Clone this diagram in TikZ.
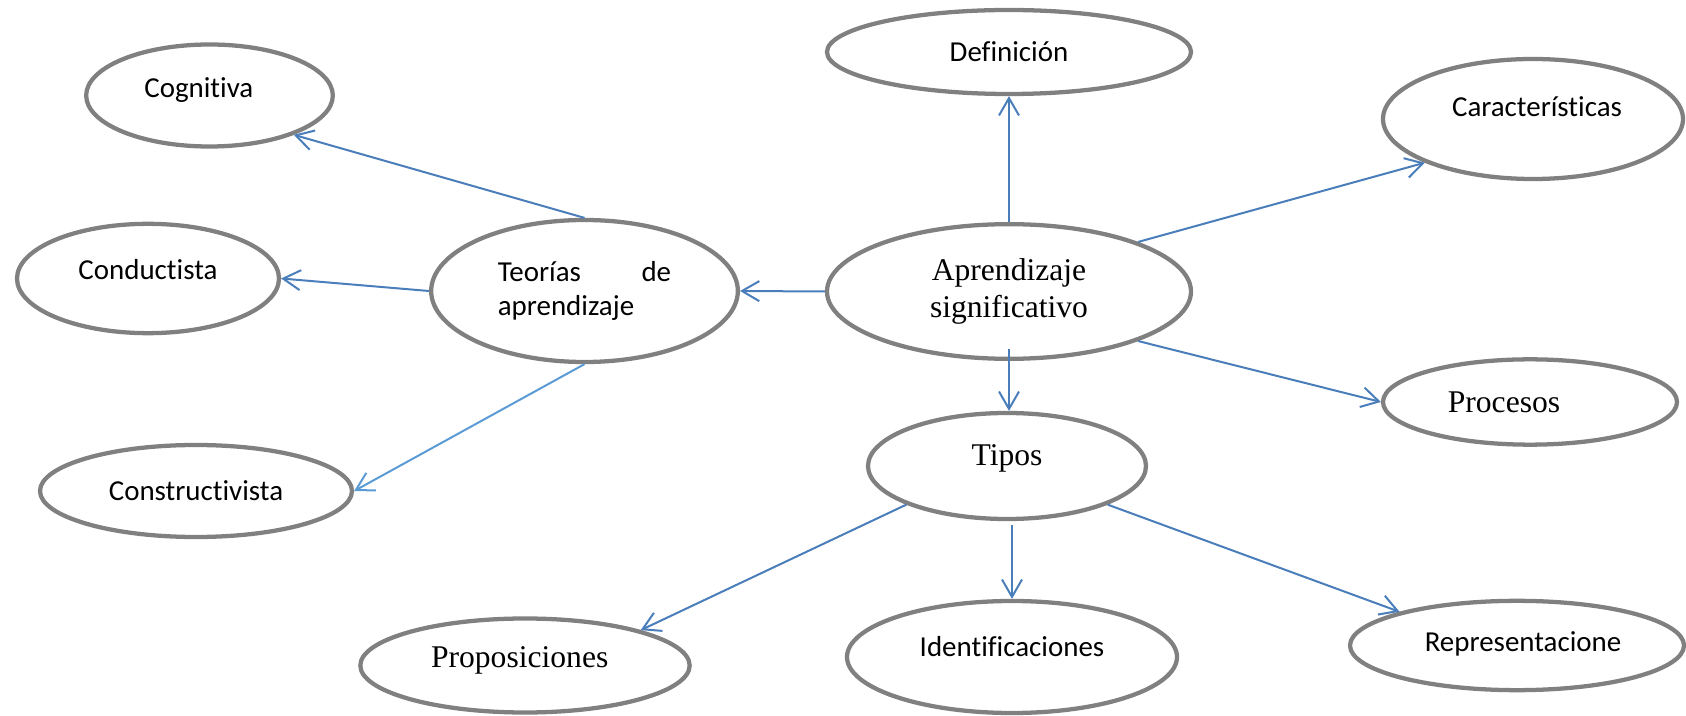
\documentclass[tikz,border=0pt]{standalone}
\usepackage{fontspec}
\usetikzlibrary{shapes.geometric,arrows.meta}
\newfontfamily\calib[Ligatures=NoCommon]{Carlito}
\newfontfamily\timesf{Liberation Serif}
\definecolor{bubgray}{RGB}{128,128,128}
\definecolor{lineblue}{RGB}{74,126,187}
\definecolor{lightblue}{RGB}{91,155,213}
\tikzset{
	bub/.style={ellipse,draw=bubgray,line width=3.2pt,inner sep=0pt},
	calibtxt/.style={font=\calib\fontsize{21.7}{26}\selectfont},
	timestxt/.style={font=\timesf\fontsize{23.7}{27.4}\selectfont},
	arr/.style={draw=lineblue,line width=1.5pt,-{Straight Barb[length=13pt,width=15pt]}}
}
\begin{document}
\begin{tikzpicture}[x=0.75pt,y=-0.75pt]
		\useasboundingbox (0,0) rectangle (1686,716);
		
		\node[bub,minimum width=273pt,minimum height=101pt,label={[timestxt,align=center]center:Aprendizaje\\significativo}] (apr) at (1009,291.5) {};
		\node[bub,minimum width=273pt,minimum height=63pt,label={[calibtxt]center:Definición}] (def) at (1009,52) {};
		\node[bub,minimum width=225pt,minimum height=90pt,label={[calibtxt,xshift=3pt,yshift=9.5pt]center:Características}] (car) at (1533,119) {};
		\node[bub,minimum width=220.5pt,minimum height=64pt,label={[timestxt,xshift=-19.5pt]center:Procesos}] (pro) at (1530,402) {};
		\node[bub,minimum width=208.5pt,minimum height=79.5pt,label={[timestxt,yshift=6pt]center:Tipos}] (tip) at (1007,466) {};
		\node[bub,minimum width=230pt,minimum height=106.5pt,label={[calibtxt,text width=130pt,align=left]center:Teorías\hfill de\\aprendizaje}] (teo) at (584.5,291) {};
		
		\node[bub,minimum width=185pt,minimum height=76.5pt,label={[calibtxt,xshift=-8pt,yshift=4pt]center:Cognitiva}] (cog) at (209.5,95.5) {};
		\node[bub,minimum width=196.5pt,minimum height=82pt,label={[calibtxt,yshift=7pt]center:Conductista}] (cond) at (148,278.5) {};
		\node[bub,minimum width=234pt,minimum height=69pt,label={[calibtxt]center:Constructivista}] (cons) at (196,491) {};
		
		\node[bub,minimum width=247pt,minimum height=70.5pt,label={[timestxt,xshift=-4pt,yshift=3.5pt]center:Proposiciones}] (prop) at (525,665.5) {};
		\node[bub,minimum width=247.5pt,minimum height=84pt,label={[calibtxt,yshift=8pt]center:Identificaciones}] (ide) at (1012,657) {};
		\node[bub,minimum width=250.5pt,minimum height=67pt,label={[calibtxt,xshift=4.5pt,yshift=1pt]center:Representacione}] (rep) at (1517,645.5) {};
		
		\draw[arr] (apr.north) -- (def.south);
		\draw[arr] (apr.21) -- (car.202);
		\draw[arr] (apr.-21) -- (pro.west);
		\draw[arr,shorten <=-9pt] (apr.south) -- (apr.south |- tip.north);
		\draw[arr] (apr.west) -- (teo.east);
		\draw[arr] (teo.north) -- (cog.335);
		\draw[arr] (teo.west) -- (cond.east);
		\draw[arr,draw=lightblue] (teo.south) -- (cons.east);
		\draw[arr] (tip.201) -- (prop.17);
		\draw[arr,shorten <=3pt] (tip.south -| ide.north) -- (ide.north);
		\draw[arr] (tip.339) -- (rep.164);
		\end{tikzpicture}
\end{document}
